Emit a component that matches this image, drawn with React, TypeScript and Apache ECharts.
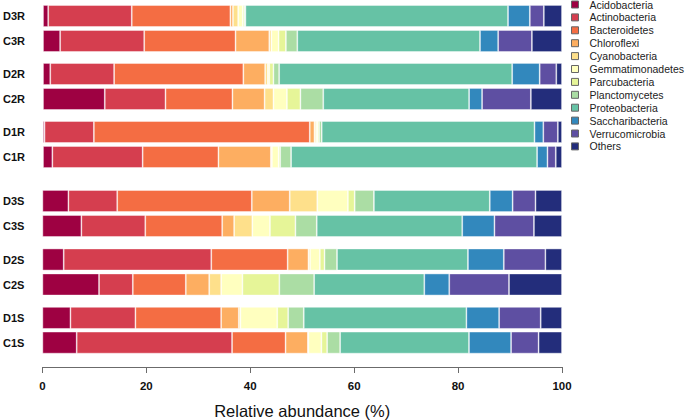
import React, { useEffect, useRef } from "react";
import * as echarts from "echarts";

const samples = ["D3R", "C3R", "D2R", "C2R", "D1R", "C1R", "D3S", "C3S", "D2S", "C2S", "D1S", "C1S"];
const phyla = [
  "Acidobacteria", "Actinobacteria", "Bacteroidetes", "Chloroflexi", "Cyanobacteria",
  "Gemmatimonadetes", "Parcubacteria", "Planctomycetes", "Proteobacteria",
  "Saccharibacteria", "Verrucomicrobia", "Others",
];
const colors = [
  "#9E0142", "#D53E4F", "#F46D43", "#FDAE61", "#FEE08B", "#FFFFBF",
  "#E6F598", "#ABDDA4", "#66C2A5", "#3288BD", "#5E4FA2", "#232D7B",
];

const acidobacteria = [1.0, 3.3, 1.4, 11.9, 0.3, 1.8, 5.0, 7.5, 4.1, 10.9, 5.4, 6.6];
const actinobacteria = [16.1, 16.2, 12.3, 11.7, 9.5, 17.4, 9.4, 12.3, 28.4, 6.5, 12.5, 29.9];
const bacteroidetes = [19.0, 17.6, 24.9, 12.9, 41.6, 14.6, 25.9, 14.8, 14.7, 10.2, 16.5, 10.3];
const chloroflexi = [0.5, 6.5, 4.2, 6.2, 0.9, 10.1, 7.3, 2.3, 4.0, 4.5, 3.4, 4.3];
const cyanobacteria = [1.0, 0.4, 0.5, 1.7, 0.3, 0.2, 5.3, 3.5, 0.3, 2.3, 0.3, 0.1];
const gemmatimonadetes = [0.9, 1.4, 0.3, 2.6, 0.3, 1.3, 5.9, 3.4, 1.9, 4.1, 7.1, 2.5];
const parcubacteria = [0.3, 1.4, 0.8, 2.6, 0.3, 0.3, 1.3, 4.9, 0.9, 7.1, 2.1, 1.1];
const planctomycetes = [0.2, 2.2, 1.1, 4.4, 0.5, 2.1, 3.7, 4.1, 2.4, 6.7, 3.0, 2.5];
const proteobacteria = [50.6, 35.2, 44.9, 28.1, 41.0, 47.4, 22.3, 28.0, 25.2, 21.2, 31.3, 24.8];
const saccharibacteria = [4.2, 3.5, 5.3, 2.5, 1.7, 2.0, 4.4, 6.2, 6.9, 4.8, 6.3, 8.1];
const verrucomicrobia = [2.7, 6.5, 3.2, 9.4, 2.8, 1.6, 4.4, 7.6, 8.0, 11.5, 8.0, 5.3];
const others = [3.5, 5.8, 1.1, 6.0, 0.8, 1.2, 5.1, 5.4, 3.2, 10.2, 4.1, 4.5];

const values = [
  acidobacteria, actinobacteria, bacteroidetes, chloroflexi, cyanobacteria,
  gemmatimonadetes, parcubacteria, planctomycetes, proteobacteria,
  saccharibacteria, verrucomicrobia, others,
];

const xTicks = [0, 20, 40, 60, 80, 100];
const xTitle = "Relative abundance (%)";

// layout of the six pair panels (pixel tops)
const gridTops = [3.5, 61.5, 119.5, 188.5, 247, 305.5];

export default function App() {
  const ref = useRef<HTMLDivElement>(null);
  useEffect(() => {
    document.body.style.margin = "0";
    const chart = echarts.init(ref.current!, null, { renderer: "svg" });
    const nPairs = gridTops.length;
    const grid = gridTops.map((t) => ({ left: 40, width: 522, top: t, height: 50 }));
    const xAxis = gridTops.map((_, g) => {
      const last = g === nPairs - 1;
      return {
        type: "value",
        gridIndex: g,
        min: 0,
        max: 100,
        interval: 20,
        show: last,
        offset: 12,
        splitLine: { show: false },
        axisLine: { show: last, lineStyle: { color: "#6b6b6b", width: 1 } },
        axisTick: { show: last, length: 6, lineStyle: { color: "#6b6b6b" } },
        axisLabel: {
          show: last,
          margin: 13,
          color: "#111",
          fontWeight: "bold",
          fontSize: 11.5,
          fontFamily: "Liberation Sans, Arial, sans-serif",
          formatter: (v: number) => (xTicks.includes(v) ? String(v) : ""),
        },
        name: last ? xTitle : "",
        nameLocation: "middle",
        nameGap: 35,
        nameTextStyle: {
          fontSize: 16.5,
          color: "#111",
          fontFamily: "Liberation Sans, Arial, sans-serif",
        },
      };
    });
    const yAxis = gridTops.map((_, g) => ({
      type: "category",
      gridIndex: g,
      inverse: true,
      data: [samples[2 * g], samples[2 * g + 1]],
      axisLine: { show: false },
      axisTick: { show: false },
      axisLabel: {
        margin: 18,
        color: "#111",
        fontWeight: "bold",
        fontSize: 11,
        fontFamily: "Liberation Sans, Arial, sans-serif",
      },
    }));
    const series: any[] = [];
    phyla.forEach((p, i) => {
      for (let g = 0; g < nPairs; g++) {
        series.push({
          type: "bar",
          name: p,
          stack: "s" + g,
          xAxisIndex: g,
          yAxisIndex: g,
          barWidth: 22,
          data: [values[i][2 * g], values[i][2 * g + 1]],
          itemStyle: {
            color: colors[i],
            borderColor: "rgba(255,255,255,0.55)",
            borderWidth: 0.8,
          },
        });
      }
    });
    chart.setOption({
      animation: false,
      grid,
      xAxis,
      yAxis,
      series,
      legend: {
        data: phyla,
        orient: "vertical",
        left: 571,
        top: -1,
        padding: 0,
        itemWidth: 7,
        itemHeight: 7,
        itemGap: 1.9,
        icon: "rect",
        itemStyle: { borderColor: "#666", borderWidth: 1 },
        textStyle: {
          fontSize: 10.5,
          lineHeight: 11,
          color: "#222",
          padding: [0, 0, 0, 6],
          fontFamily: "Liberation Sans, Arial, sans-serif",
        },
      },
    });
    return () => chart.dispose();
  }, []);
  return <div ref={ref} style={{ width: 685, height: 420 }} />;
}
